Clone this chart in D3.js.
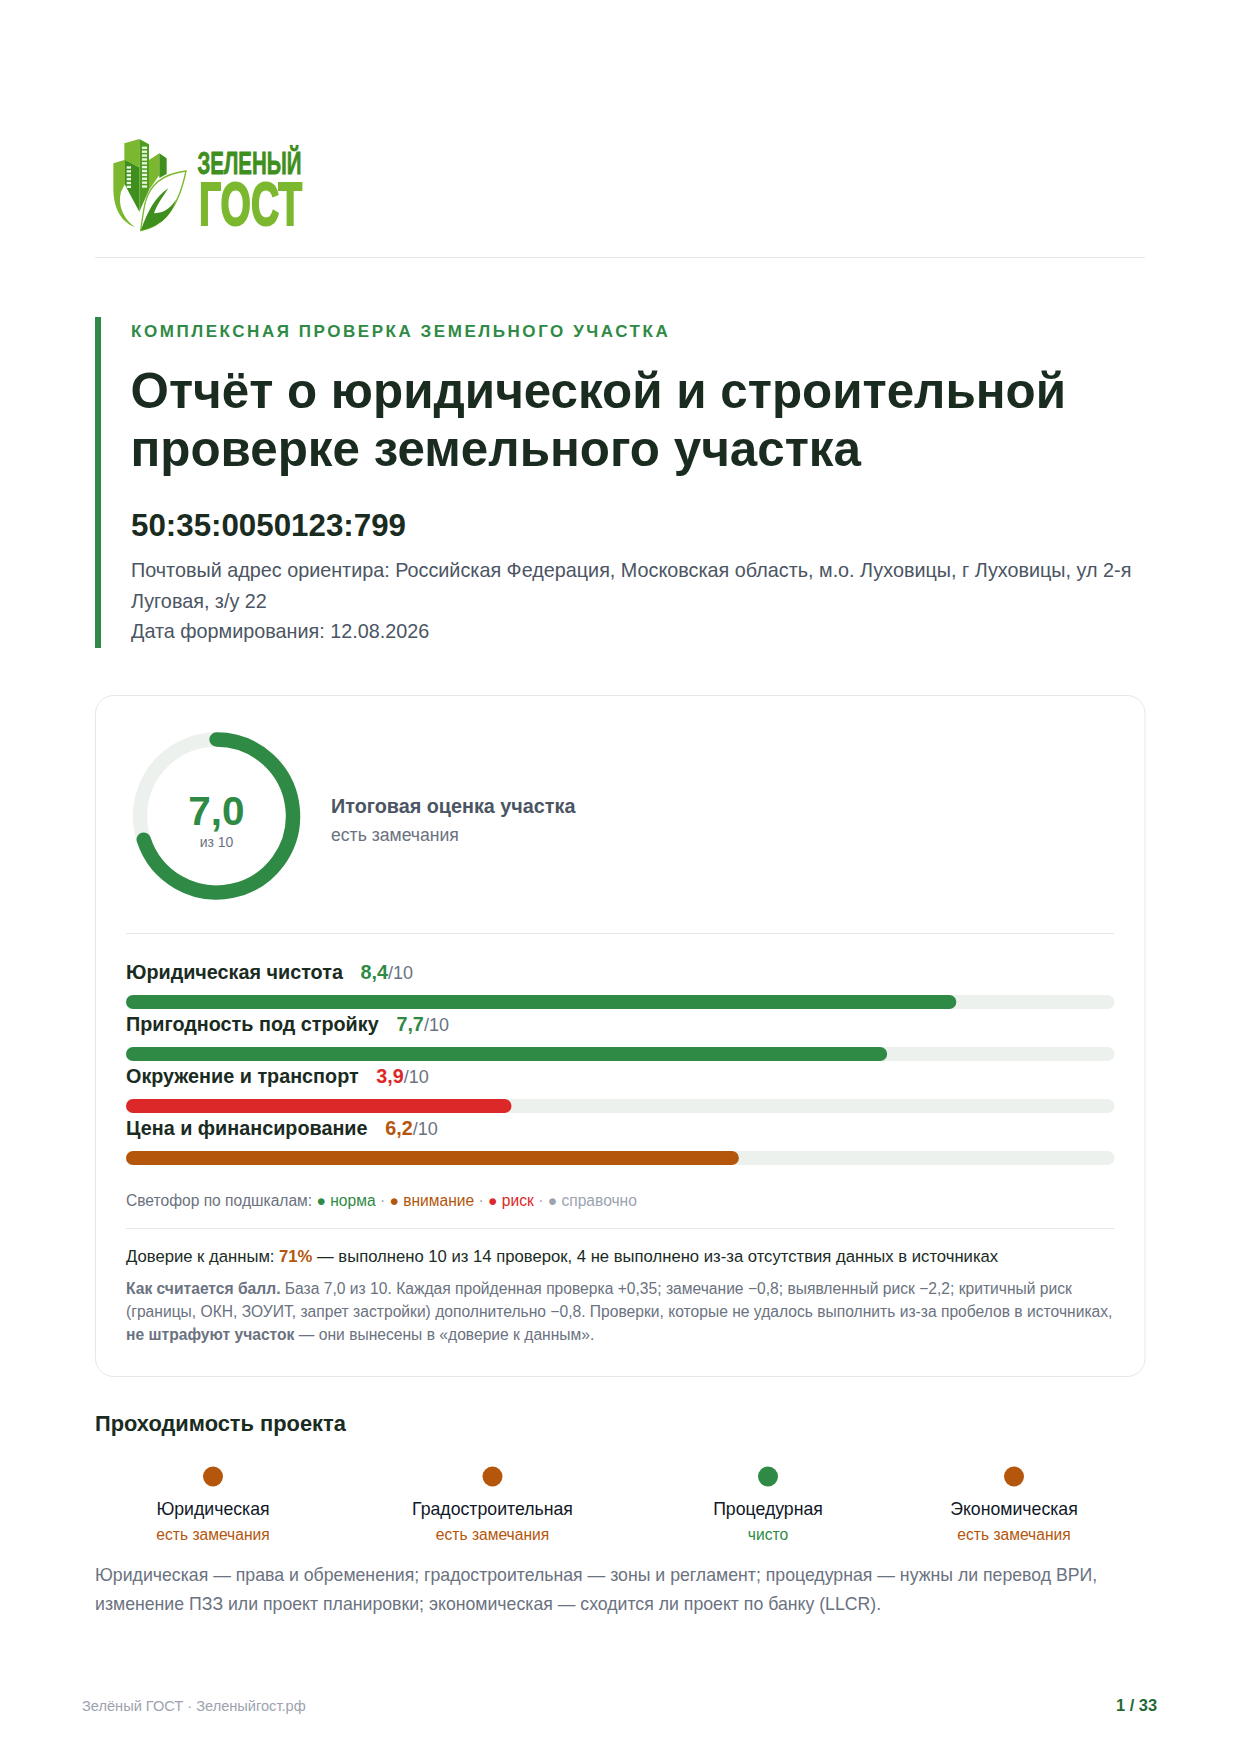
<!DOCTYPE html>
<html lang="ru"><head><meta charset="utf-8">
<script src="https://cdn.jsdelivr.net/npm/d3@7/dist/d3.min.js"></script>
<style>html,body{margin:0;padding:0;background:#fff}svg{display:block}text{font-family:"Liberation Sans",Arial,sans-serif}</style>
</head><body><div id="c"></div>
<script>
const subscales=["Юридическая чистота","Пригодность под стройку","Окружение и транспорт","Цена и финансирование"];
const subscaleValues=[8.4,7.7,3.9,6.2];
const subscaleStatus=["norm","norm","risk","warn"];
const totalScore=7.0;
const maxScore=10;
const legendItems=[["● норма","norm"],["● внимание","warn"],["● риск","risk"],["● справочно","ref"]];
const passCategories=["Юридическая","Градостроительная","Процедурная","Экономическая"];
const passStatus=["warn","warn","norm","warn"];
const passLabels=["есть замечания","есть замечания","чисто","есть замечания"];

const C={norm:"#2f8a45",warn:"#b4560c",risk:"#dc2828",ref:"#9ca3af",track:"#edf1ee",ink:"#1a2b1f",slate:"#4b5563",gray:"#6b7280",rule:"#e5e7eb"};
const W=1241,H=1754;
const svg=d3.select("#c").append("svg").attr("width",W).attr("height",H).attr("viewBox",[0,0,W,H]);
function T(x,y,s,size,fill,o={}){
  const t=svg.append("text").attr("x",x).attr("y",y).attr("font-size",size).attr("fill",fill).text(s);
  if(o.b)t.attr("font-weight",700);if(o.a)t.attr("text-anchor",o.a);if(o.ls)t.attr("letter-spacing",o.ls);
  return t;
}
function R(t,s,o={}){const r=t.append("tspan").text(s);if(o.fill)r.attr("fill",o.fill);if(o.b)r.attr("font-weight",700);if(o.size)r.attr("font-size",o.size);if(o.dx)r.attr("dx",o.dx);return r;}

// logo
const lg=svg.append("g").attr("transform","translate(80,110) scale(.33333)");
const G1="#7cb82f",G2="#3f8f1e",G3="#4f9e22";
[["M100,160 L135,149 L135,222 L123,245 C112,285 130,325 165,352 C120,335 100,290 100,235 Z",G1],
 ["M135,149 L178,172 L178,305 L135,225 Z",G2],
 ["M133,100 L178,87 L178,172 L133,149 Z",G1],
 ["M178,87 L207,103 L207,240 L178,305 Z",G3],
 ["M207,150 L238,130 L238,195 L207,240 Z",G1],
 ["M238,130 L260,145 L260,192 L238,204 Z",G2]].forEach(([d,f])=>lg.append("path").attr("d",d).attr("fill",f));
d3.range(11).forEach(i=>{lg.append("rect").attr("x",186).attr("y",110+i*11.6).attr("width",15).attr("height",7).attr("fill","#eef6e4");});
d3.range(6).forEach(i=>{lg.append("rect").attr("x",140).attr("y",169+i*11.6).attr("width",13).attr("height",7).attr("fill","#eef6e4");});
lg.append("path").attr("d","M318,183 C260,190 210,215 195,280 C188,315 185,340 182,362 C240,350 292,310 318,183Z").attr("fill","#fff").attr("stroke",G1).attr("stroke-width",4);
lg.append("path").attr("d","M182,362 C205,300 225,262 265,235 C245,265 228,290 222,310 C245,310 270,300 288,268 C270,330 230,350 182,362Z").attr("fill",G2);
T(197.5,173.5,"ЗЕЛЕНЫЙ",31,"#3f8f1e",{b:1}).attr("textLength",104).attr("lengthAdjust","spacingAndGlyphs").attr("stroke","#3f8f1e").attr("stroke-width",.8);
T(199,225,"ГОСТ",61,G1,{b:1}).attr("textLength",103).attr("lengthAdjust","spacingAndGlyphs").attr("stroke",G1).attr("stroke-width",2.2);
svg.append("line").attr("x1",95).attr("x2",1145).attr("y1",257.5).attr("y2",257.5).attr("stroke",C.rule);

// header
svg.append("rect").attr("x",95).attr("y",317).attr("width",6).attr("height",331).attr("fill",C.norm);
T(131,337,"КОМПЛЕКСНАЯ ПРОВЕРКА ЗЕМЕЛЬНОГО УЧАСТКА",17,C.norm,{b:1,ls:2.55});
T(130.5,408,"Отчёт о юридической и строительной",49.35,C.ink,{b:1});
T(130.5,466,"проверке земельного участка",49.35,C.ink,{b:1});
T(131,536,"50:35:0050123:799",31.3,C.ink,{b:1});
T(131,577,"Почтовый адрес ориентира: Российская Федерация, Московская область, м.о. Луховицы, г Луховицы, ул 2-я",19.8,C.slate);
T(131,608,"Луговая, з/у 22",19.8,C.slate);
T(131,638,"Дата формирования: 12.08.2026",19.8,C.slate);

// card
svg.append("rect").attr("x",95.5).attr("y",695.5).attr("width",1049.5).attr("height",681).attr("rx",18).attr("fill","#fff").attr("stroke",C.rule);

// ring
const angle=d3.scaleLinear().domain([0,maxScore]).range([0,2*Math.PI]);
const arc=d3.arc().innerRadius(76.5).outerRadius(76.5);
const ring=svg.append("g").attr("transform","translate(216.5,816)");
ring.append("circle").attr("r",76.5).attr("fill","none").attr("stroke",C.track).attr("stroke-width",14.4);
ring.append("path").attr("d",arc({startAngle:angle(0),endAngle:angle(totalScore)})).attr("fill","none").attr("stroke",C.norm).attr("stroke-width",14.4).attr("stroke-linejoin","round").attr("stroke-linecap","round");
T(216.5,825,d3.format(".1f")(totalScore).replace(".",","),40.5,C.norm,{b:1,a:"middle"});
T(216.5,847,"из "+maxScore,14,C.gray,{a:"middle"});
T(331,812.5,"Итоговая оценка участка",19.8,C.slate,{b:1});
T(331,841,"есть замечания",17.6,C.gray);
svg.append("line").attr("x1",126).attr("x2",1114.5).attr("y1",933.5).attr("y2",933.5).attr("stroke",C.rule);

// bars
const x=d3.scaleLinear().domain([0,maxScore]).range([126,1114.5]);
const y=d3.scaleBand().domain(subscales).range([979,1187]);
const rows=svg.selectAll("g.row").data(subscales).join("g").attr("class","row").attr("transform",d=>`translate(0,${y(d)})`);
rows.append("rect").attr("x",x(0)).attr("y",16).attr("width",x(maxScore)-x(0)).attr("height",14).attr("rx",7).attr("fill",C.track);
rows.append("rect").attr("x",x(0)).attr("y",16).attr("width",(d,i)=>x(subscaleValues[i])-x(0)).attr("height",14).attr("rx",7).attr("fill",(d,i)=>C[subscaleStatus[i]]);
rows.each(function(d,i){
  const t=d3.select(this).append("text").attr("x",126).attr("y",0).attr("font-size",19.8).attr("fill",C.ink);
  R(t,d,{b:1});
  R(t,d3.format(".1f")(subscaleValues[i]).replace(".",","),{b:1,fill:C[subscaleStatus[i]],dx:17.7});
  R(t,"/"+maxScore,{fill:C.gray,size:18});
});

// legend
const lt=T(126,1206,"Светофор по подшкалам: ",15.6,C.gray);
legendItems.forEach(([s,k],i)=>{R(lt,s,{fill:C[k]});if(i<legendItems.length-1)R(lt," · ",{fill:C.ref});});
svg.append("line").attr("x1",126).attr("x2",1114.5).attr("y1",1228.5).attr("y2",1228.5).attr("stroke",C.rule);

const tr=T(126,1262,"Доверие к данным: ",16.67,C.ink);
R(tr,"71%",{b:1,fill:C.warn});R(tr," — выполнено 10 из 14 проверок, 4 не выполнено из-за отсутствия данных в источниках");
const n1=T(126,1294,"",15.63,C.gray);R(n1,"Как считается балл.",{b:1});R(n1," База 7,0 из 10. Каждая пройденная проверка +0,35; замечание −0,8; выявленный риск −2,2; критичный риск");
T(126,1317,"(границы, ОКН, ЗОУИТ, запрет застройки) дополнительно −0,8. Проверки, которые не удалось выполнить из-за пробелов в источниках,",15.63,C.gray);
const n3=T(126,1340,"",15.63,C.gray);R(n3,"не штрафуют участок",{b:1});R(n3," — они вынесены в «доверие к данным».");

// pass
T(95,1431,"Проходимость проекта",21.85,C.ink,{b:1});
const px=d3.scaleOrdinal().domain(passCategories).range([213,492.5,768,1014]);
const cols=svg.selectAll("g.pass").data(passCategories).join("g").attr("class","pass").attr("transform",d=>`translate(${px(d)},0)`);
cols.append("circle").attr("cy",1476.5).attr("r",10).attr("fill",(d,i)=>C[passStatus[i]]);
cols.append("text").attr("y",1515).attr("text-anchor","middle").attr("font-size",17.7).attr("fill","#111827").text(d=>d);
cols.append("text").attr("y",1540).attr("text-anchor","middle").attr("font-size",15.6).attr("fill",(d,i)=>C[passStatus[i]]).text((d,i)=>passLabels[i]);
T(95,1581,"Юридическая — права и обременения; градостроительная — зоны и регламент; процедурная — нужны ли перевод ВРИ,",17.72,C.gray);
T(95,1609.5,"изменение ПЗЗ или проект планировки; экономическая — сходится ли проект по банку (LLCR).",17.72,C.gray);

T(82,1711,"Зелёный ГОСТ · Зеленыйгост.рф",14.6,C.ref);
T(1157,1711,"1 / 33",16.4,"#1f6b36",{b:1,a:"end"});
</script></body></html>
